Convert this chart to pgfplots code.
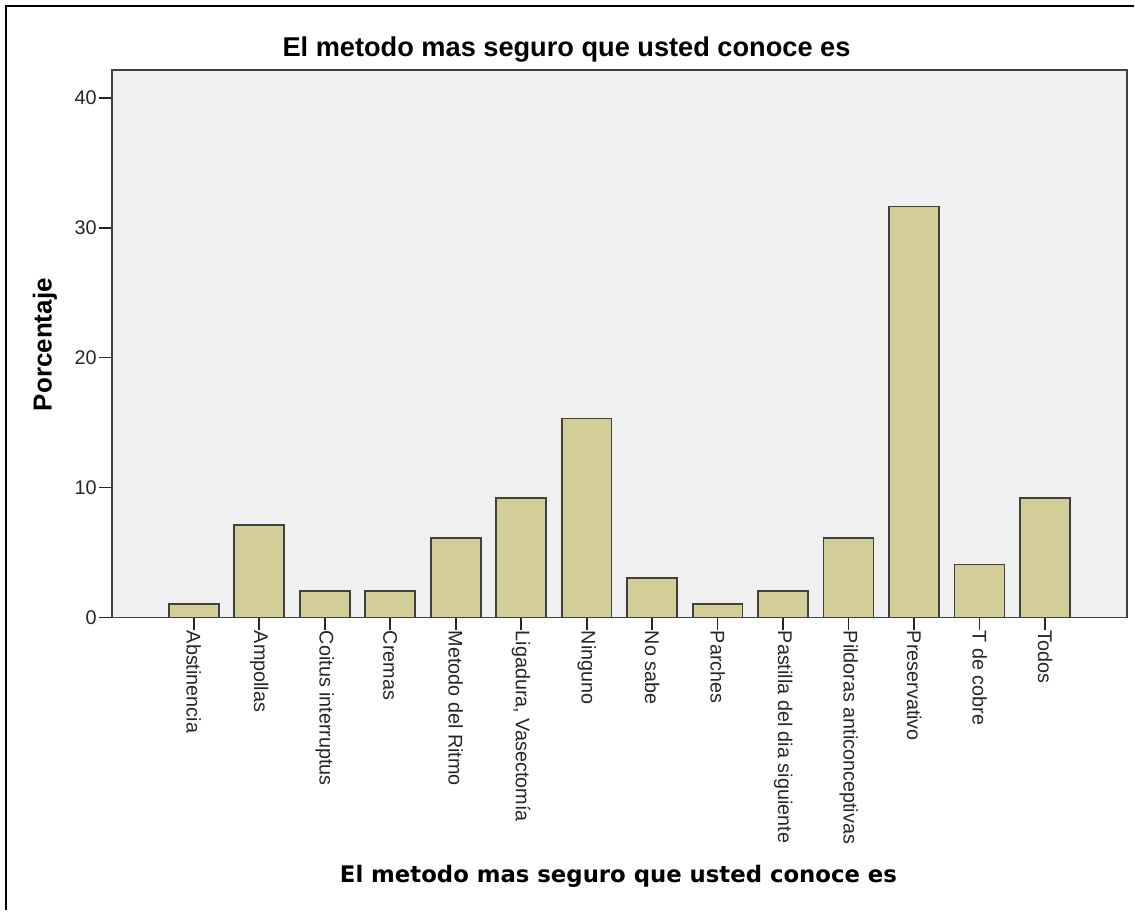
\documentclass[border=0pt]{standalone}
\usepackage{fontspec}
\setmainfont{Liberation Sans}
\newfontfamily\djb{DejaVu Sans}
\usepackage{pgfplots}
\pgfplotsset{compat=1.18}
\definecolor{barfill}{HTML}{D3CE97}
\definecolor{plotbg}{HTML}{F0F0F0}
\begin{document}
\begin{tikzpicture}
\path (0pt,0pt) rectangle (567.5pt,455.5pt);
\draw[line width=1pt, black] (3pt,0pt) -- (3pt,452.3pt) -- (567.5pt,452.3pt);
\begin{axis}[
  at={(56pt,146.5pt)}, anchor=south west,
  scale only axis, width=508pt, height=274pt,
  xmin=-1.25, xmax=14.25, ymin=0, ymax=42.15,
  axis background/.style={fill=plotbg},
  ytick={0,10,20,30,40},
  xtick={0,...,13},
  xticklabels={Abstinencia,Ampollas,Coitus interruptus,Cremas,Metodo del Ritmo,{Ligadura, Vasectomía},Ninguno,No sabe,Parches,Pastilla del dia siguiente,Pildoras anticonceptivas,Preservativo,T de cobre,Todos},
  tick align=outside, major tick length=6.5pt,
  xtick pos=bottom, ytick pos=left,
  tick style={black!85, line width=0.8pt},
  axis line style={black!75, line width=0.8pt},
  xticklabel style={rotate=-90, anchor=west, inner sep=0pt, font=\fontsize{9.9}{11}\selectfont, text=black!85},
  yticklabel style={font=\fontsize{9.9}{11}\selectfont, text=black!85, inner sep=1pt},
  /pgf/number format/assume math mode=true,
]
\addplot[ybar, bar width=0.763, fill=barfill, draw=black!75, line width=0.8pt] coordinates {
(0,1.02) (1,7.14) (2,2.04) (3,2.04) (4,6.12) (5,9.18) (6,15.31) (7,3.06) (8,1.02) (9,2.04) (10,6.12) (11,31.63) (12,4.08) (13,9.18)
};
\end{axis}
\node[anchor=base, font=\fontsize{13.6}{16}\selectfont\bfseries, inner sep=0pt] at (283.5pt,427pt) {El metodo mas seguro que usted conoce es};
\node[anchor=base, font=\djb\fontsize{11.4}{14}\selectfont\bfseries, inner sep=0pt] at (309.5pt,14pt) {El metodo mas seguro que usted conoce es};
\node[rotate=90, font=\fontsize{13}{15}\selectfont\bfseries, inner sep=0pt] at (22.5pt,283pt) {Porcentaje};
\end{tikzpicture}
\end{document}
